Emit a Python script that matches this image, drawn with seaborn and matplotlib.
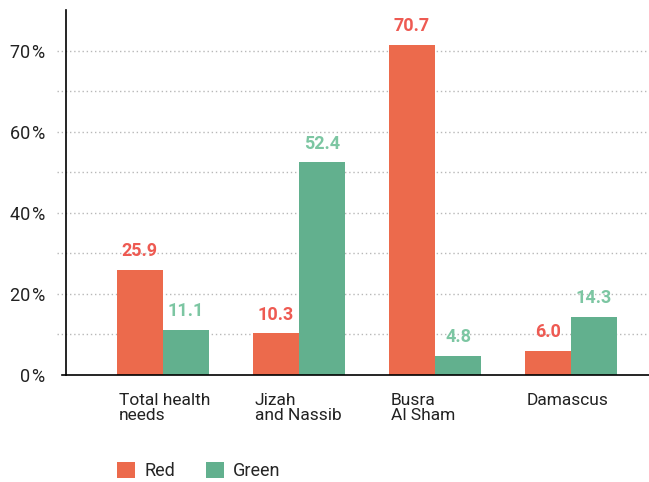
import pandas as pd
import numpy as np
import matplotlib.pyplot as plt
import seaborn as sns

# data
categories = ["Total health\nneeds", "Jizah\nand Nassib", "Busra\nAl Sham", "Damascus"]
red_values = [25.9, 10.3, 70.7, 6.0]
green_values = [11.1, 52.4, 4.8, 14.3]
series = ["Red", "Green"]
ytick_values = [0, 20, 40, 60, 70]
grid_values = [10, 20, 30, 40, 50, 60, 65, 70]

bar_colors = ["#EC6A4C", "#62B08E"]
label_colors = ["#EE5A52", "#7CC6A2"]

df = pd.DataFrame({
    "cat": categories * 2,
    "value": red_values + green_values,
    "series": [series[0]] * 4 + [series[1]] * 4,
})


# the original axis is stretched above 60 %
def fwd(y):
    y = np.asarray(y, dtype=float)
    return np.where(y <= 60, y, 60 + 2 * (y - 60))


def inv(y):
    y = np.asarray(y, dtype=float)
    return np.where(y <= 60, y, 60 + (y - 60) / 2)


def main():
    sns.set_style("white")
    plt.rcParams["font.family"] = ["Roboto", "DejaVu Sans"]

    fig = plt.figure(figsize=(6.49, 4.82), dpi=100)
    ax = fig.add_axes([66 / 649, 107 / 482, 1 - 66 / 649, 365 / 482])

    sns.barplot(data=df, x="cat", y="value", hue="series", palette=bar_colors,
                width=0.68, saturation=1, ax=ax, linewidth=0)

    ax.set_yscale("function", functions=(fwd, inv))
    ax.set_ylim(0, 75)
    ax.set_xlim(-0.713, 3.574)

    # dotted grid
    for g in grid_values:
        ax.axhline(g, xmin=-0.015, color="#b8b8b8", lw=1, ls=(0, (1, 2)), zorder=0, clip_on=False)

    ax.set_yticks(ytick_values)
    ax.set_yticklabels([f"{v}\u200a%" for v in ytick_values], fontsize=13, color="#222222")
    ax.tick_params(axis="y", length=0, pad=15)
    ax.set_xticks([])
    ax.set_xlabel("")
    ax.set_ylabel("")

    for side in ["top", "right"]:
        ax.spines[side].set_visible(False)
    ax.spines["left"].set_color("black")
    ax.spines["bottom"].set_color("black")
    ax.spines["left"].set_linewidth(1.2)
    ax.spines["bottom"].set_linewidth(1.2)
    ax.spines["bottom"].set_bounds(-0.74, 3.574)
    ax.spines["bottom"].set_clip_on(False)

    # value labels above bars
    for cont, col in zip(ax.containers, label_colors):
        ax.bar_label(cont, fmt="%.1f", padding=7, color=col, fontsize=13, fontweight="bold")

    # category labels, left aligned under the red bar
    for i, c in enumerate(categories):
        ax.text(i - 0.34 + 0.015, -0.05, c, transform=ax.get_xaxis_transform(),
                ha="left", va="top", fontsize=12.5, color="#222222", linespacing=0.95)

    handles, labels = ax.get_legend_handles_labels()
    ax.legend_.remove()
    fig.legend(handles, labels, ncol=2, loc="lower left", bbox_to_anchor=(117 / 649, 2 / 482),
               frameon=False, fontsize=13, handlelength=1.0, handleheight=1.0,
               handletextpad=0.5, columnspacing=1.7, borderpad=0, borderaxespad=0)

    plt.savefig("out.png", dpi=100)


if __name__ == "__main__":
    main()
